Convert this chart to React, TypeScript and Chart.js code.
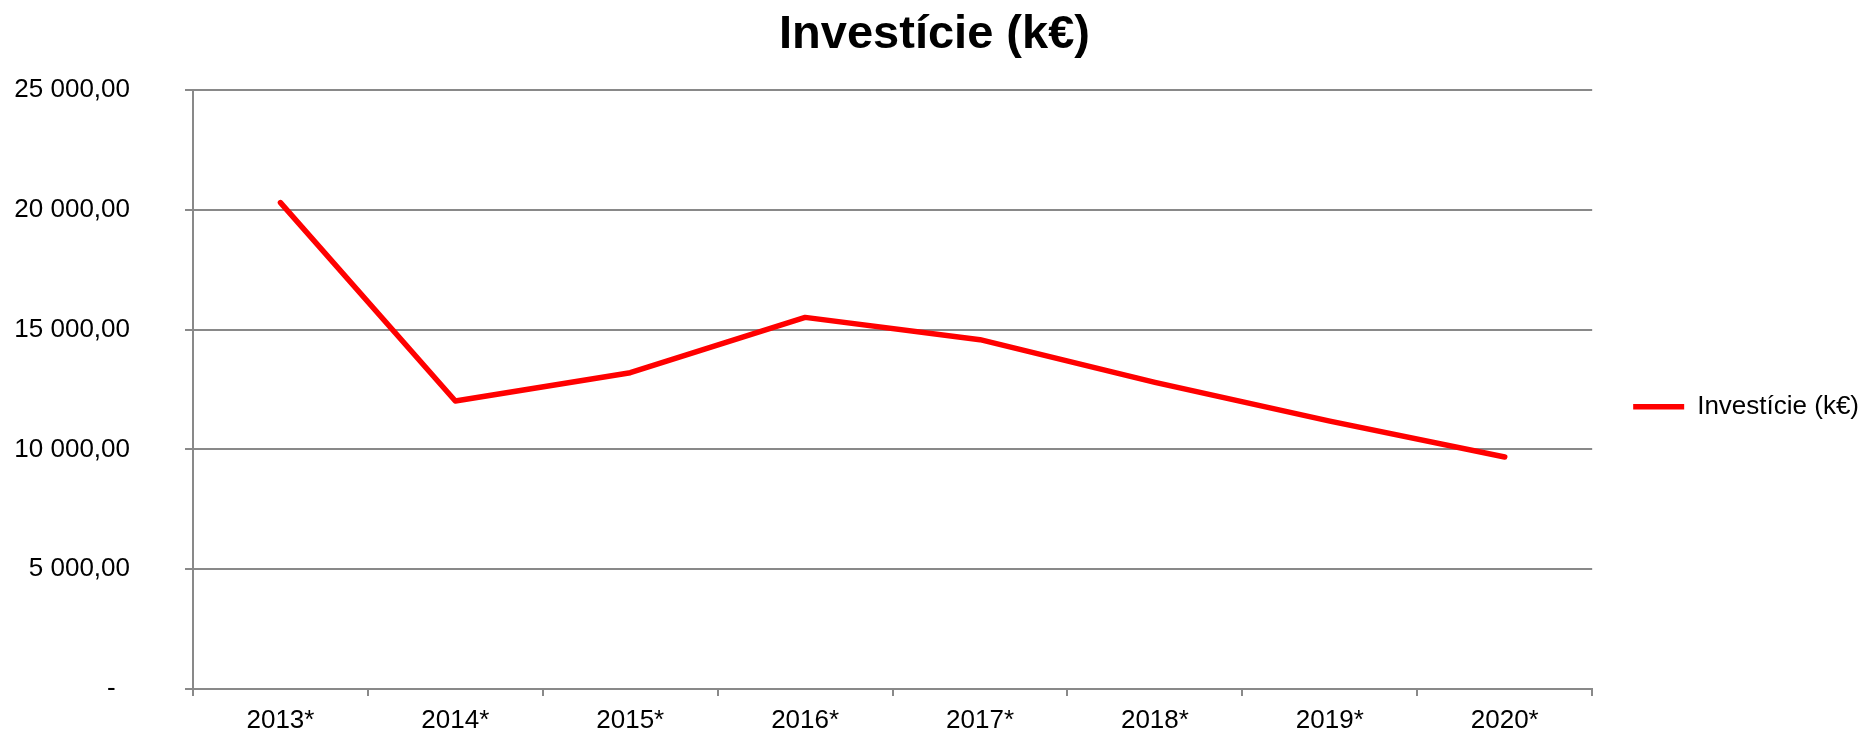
import { useEffect, useRef } from "react";
import { Chart, registerables } from "chart.js";

Chart.register(...registerables);

const categories = ["2013*", "2014*", "2015*", "2016*", "2017*", "2018*", "2019*", "2020*"];
const investicie = [20300, 12020, 13200, 15510, 14580, 12800, 11180, 9680];
const yTickValues = [0, 5000, 10000, 15000, 20000, 25000];
const yTickLabels = ["-  ", "5 000,00", "10 000,00", "15 000,00", "20 000,00", "25 000,00"];
const seriesLabel = "Investície (k€)";
const chartTitle = "Investície (k€)";

export default function App() {
  const ref = useRef<HTMLCanvasElement>(null);

  useEffect(() => {
    const FONT = "'Liberation Sans', Arial, sans-serif";
    const GRID = "#898989";
    const chart = new Chart(ref.current as HTMLCanvasElement, {
      type: "line",
      data: {
        labels: categories,
        datasets: [
          {
            label: seriesLabel,
            data: investicie,
            borderColor: "#ff0000",
            backgroundColor: "#ff0000",
            borderWidth: 5.5,
            pointRadius: 0,
            pointHoverRadius: 0,
            tension: 0,
            borderCapStyle: "round",
            borderJoinStyle: "round",
          },
        ],
      },
      options: {
        animation: false,
        responsive: false,
        maintainAspectRatio: false,
        layout: { padding: { left: 0, right: 5, top: 0, bottom: 0 } },
        plugins: {
          title: {
            display: true,
            text: chartTitle,
            color: "#000",
            font: { family: FONT, size: 47, weight: "bold" },
            padding: { top: 7, bottom: 26.6 },
          },
          legend: {
            position: "right",
            fullSize: false,
            title: { display: true, text: " ", padding: 10, font: { size: 12 } },
            labels: {
              usePointStyle: true,
              pointStyle: "line",
              pointStyleWidth: 51,
              padding: 41,
              color: "#000",
              font: { family: FONT, size: 26 },
            },
          },
          tooltip: { enabled: false },
        },
        scales: {
          x: {
            type: "category",
            offset: true,
            afterFit: (s: any) => {
              s.height = 45;
            },
            grid: {
              display: true,
              drawOnChartArea: false,
              drawTicks: true,
              tickLength: 7,
              color: GRID,
              lineWidth: 2,
              offset: true,
            },
            border: { display: true, color: GRID, width: 2 },
            ticks: {
              color: "#000",
              font: { family: FONT, size: 26 },
              padding: 9,
              maxRotation: 0,
              autoSkip: false,
            },
          },
          y: {
            type: "linear",
            min: yTickValues[0],
            max: yTickValues[yTickValues.length - 1],
            afterFit: (s: any) => {
              s.width = 193;
              s.paddingTop = 16;
              s.paddingBottom = 16;
            },
            grid: {
              color: GRID,
              lineWidth: 2,
              tickLength: 8,
              drawTicks: true,
            },
            border: { display: true, color: GRID, width: 2 },
            ticks: {
              stepSize: yTickValues[1] - yTickValues[0],
              color: "#000",
              font: { family: FONT, size: 26 },
              padding: 55,
              callback: (_v: any, i: number) => yTickLabels[i],
            },
          },
        },
      },
    });
    return () => chart.destroy();
  }, []);

  return (
    <div style={{ position: "absolute", left: 0, top: 0, width: 1874, height: 734 }}>
      <canvas ref={ref} width={1874} height={734} style={{ display: "block" }} />
    </div>
  );
}
